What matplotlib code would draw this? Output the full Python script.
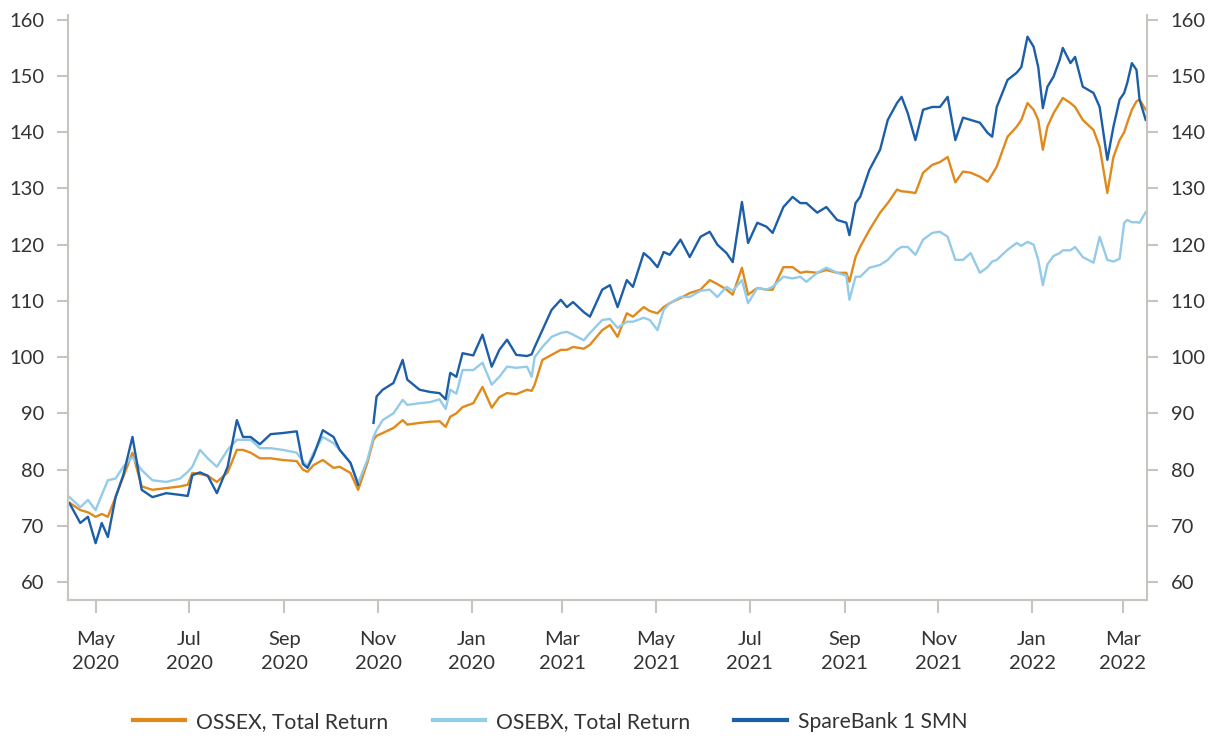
import matplotlib
matplotlib.use("Agg")
import matplotlib.pyplot as plt
import pandas as pd
import numpy as np

# x positions, as days since 2020-04-13
days = [1, 8, 13, 18, 22, 26, 31, 36, 42, 48, 55, 64, 73, 78, 81, 86, 91, 97, 104, 110,
        114, 119, 125, 132, 140, 149, 153, 156, 160, 166, 173, 177, 184, 189, 195, 199, 201, 205, 212, 218,
        221, 229, 236, 242, 246, 249, 253, 257, 264, 270, 276, 281, 286, 292, 299, 302, 304, 309, 315, 321,
        325, 329, 336, 340, 348, 353, 358, 364, 368, 375, 379, 384, 388, 392, 399, 405, 412, 418, 423, 429,
        433, 439, 443, 449, 455, 459, 466, 472, 477, 481, 488, 494, 501, 507, 509, 513, 516, 522, 529, 534,
        540, 543, 547, 552, 557, 563, 568, 573, 578, 583, 588, 594, 599, 602, 605, 612, 618, 621, 625, 629,
        632, 635, 638, 642, 646, 648, 653, 656, 661, 668, 672, 677, 681, 685, 688, 690, 693, 696, 698, 702]

ossex = [74.1, 72.8, 72.4, 71.6, 72.1, 71.6, 75.1, 78.7, 83.0, 77.0, 76.4, 76.7, 77.0, 77.3, 79.4, 79.2, 78.9, 77.8, 79.5, 83.5,
         83.5, 83.0, 82.0, 82.0, 81.7, 81.5, 80.0, 79.6, 80.8, 81.7, 80.3, 80.5, 79.4, 76.4, 81.2, 85.3, 86.0, 86.5, 87.4, 88.8,
         88.0, 88.3, 88.5, 88.6, 87.6, 89.4, 90.0, 91.1, 91.8, 94.7, 91.0, 92.9, 93.6, 93.4, 94.2, 94.0, 95.1, 99.5, 100.4, 101.3,
         101.3, 101.8, 101.5, 102.2, 104.8, 105.7, 103.6, 107.8, 107.2, 108.9, 108.2, 107.8, 108.9, 109.6, 110.5, 111.4, 112.0, 113.7, 113.0, 112.0,
         111.1, 115.9, 111.1, 112.3, 112.0, 112.0, 116.0, 116.0, 115.0, 115.2, 115.0, 115.5, 115.0, 115.0, 113.4, 117.8, 119.6, 122.6, 125.7, 127.4,
         129.8, 129.5, 129.4, 129.2, 132.8, 134.2, 134.7, 135.6, 131.1, 133.0, 132.8, 132.1, 131.2, 132.5, 133.9, 139.2, 141.0, 142.2, 145.2, 144.0,
         142.2, 136.9, 141.0, 143.4, 145.2, 146.1, 145.2, 144.5, 142.2, 140.4, 137.4, 129.2, 135.6, 138.6, 140.0, 141.7, 144.0, 145.5, 145.8, 144.0]

osebx = [75.1, 73.3, 74.6, 72.8, 75.5, 78.1, 78.4, 80.5, 82.2, 79.9, 78.1, 77.8, 78.4, 79.6, 80.5, 83.5, 82.0, 80.5, 83.5, 85.3,
         85.3, 85.3, 83.8, 83.8, 83.5, 83.0, 81.5, 80.6, 83.0, 85.8, 84.7, 83.5, 81.2, 77.6, 81.7, 85.8, 87.0, 88.8, 90.0, 92.4,
         91.5, 91.8, 92.0, 92.5, 90.8, 94.2, 93.5, 97.7, 97.7, 99.0, 95.1, 96.5, 98.3, 98.1, 98.3, 96.5, 100.0, 101.8, 103.6, 104.3,
         104.5, 104.0, 103.0, 104.3, 106.6, 106.8, 105.2, 106.3, 106.3, 107.0, 106.6, 104.8, 108.4, 109.6, 110.7, 110.7, 111.8, 112.0, 110.7, 112.5,
         111.8, 113.7, 109.6, 112.3, 112.0, 112.5, 114.3, 114.0, 114.3, 113.4, 115.0, 115.9, 115.0, 114.5, 110.2, 114.3, 114.3, 115.9, 116.4, 117.3,
         119.1, 119.6, 119.6, 118.2, 120.9, 122.1, 122.3, 121.4, 117.3, 117.3, 118.5, 115.0, 116.0, 117.0, 117.3, 119.1, 120.3, 119.8, 120.5, 120.0,
         117.3, 112.8, 116.5, 118.0, 118.5, 119.0, 119.0, 119.6, 117.8, 116.8, 121.4, 117.3, 117.0, 117.5, 123.9, 124.4, 124.0, 124.0, 123.9, 125.8]

smn = [74.0, 70.5, 71.6, 66.9, 70.5, 68.0, 75.1, 79.0, 85.8, 76.4, 75.1, 75.8, 75.5, 75.3, 79.0, 79.5, 78.9, 75.8, 80.5, 88.8,
       85.8, 85.8, 84.5, 86.3, 86.5, 86.8, 81.0, 80.3, 82.5, 87.0, 85.8, 83.5, 81.2, 77.3, np.nan, 88.3, 93.0, 94.2, 95.4, 99.5,
       96.0, 94.2, 93.8, 93.6, 92.5, 97.2, 96.5, 100.7, 100.3, 104.0, 98.3, 101.3, 103.1, 100.4, 100.2, 100.5, 101.8, 104.8, 108.4, 110.2,
       108.9, 109.8, 108.0, 107.2, 112.0, 112.8, 108.9, 113.7, 112.5, 118.5, 117.6, 116.0, 118.7, 118.2, 120.9, 117.8, 121.4, 122.3, 120.0, 118.5,
       116.9, 127.6, 120.3, 123.9, 123.2, 122.1, 126.7, 128.5, 127.4, 127.4, 125.7, 126.7, 124.4, 123.9, 121.7, 127.4, 128.5, 133.3, 136.9, 142.2,
       145.2, 146.3, 143.4, 138.6, 144.0, 144.5, 144.5, 146.3, 138.6, 142.6, 142.2, 141.7, 139.9, 139.2, 144.5, 149.3, 150.6, 151.6, 157.0, 155.2,
       151.6, 144.3, 148.1, 149.9, 152.9, 155.0, 152.3, 153.4, 148.1, 147.0, 144.5, 135.1, 141.0, 145.8, 147.0, 148.8, 152.3, 151.1, 145.8, 142.2]

series_names = ["OSSEX, Total Return", "OSEBX, Total Return", "SpareBank 1 SMN"]
series_colors = ["#e08a1c", "#93cbe8", "#1c5ea8"]

tick_dates = ["2020-05-01", "2020-07-01", "2020-09-01", "2020-11-01", "2021-01-01", "2021-03-01",
              "2021-05-01", "2021-07-01", "2021-09-01", "2021-11-01", "2022-01-01", "2022-03-01"]
tick_labels = ["May\n2020", "Jul\n2020", "Sep\n2020", "Nov\n2020", "Jan\n2020", "Mar\n2021",
               "May\n2021", "Jul\n2021", "Sep\n2021", "Nov\n2021", "Jan\n2022", "Mar\n2022"]
y_ticks = [60, 70, 80, 90, 100, 110, 120, 130, 140, 150, 160]

plt.rcParams['font.family'] = ['Lato', 'DejaVu Sans']
text_color = "#333333"
spine_color = "#c8c4bf"

dates = pd.Timestamp("2020-04-13") + pd.to_timedelta(days, unit="D")

fig = plt.figure(figsize=(12.14, 7.38), dpi=100)
ax = fig.add_axes([0.056, 0.187, 0.889, 0.793])

for vals, name, col in zip([ossex, osebx, smn], series_names, series_colors):
    ax.plot(dates, vals, color=col, lw=1.7, label=name)

ax.set_xlim(pd.Timestamp("2020-04-13"), pd.Timestamp("2022-03-17"))
ax.set_ylim(56.8, 160.9)
ax.set_yticks(y_ticks)
ax.set_xticks(pd.to_datetime(tick_dates))
ax.set_xticklabels(tick_labels)

ax.spines['top'].set_visible(False)
for s in ['left', 'bottom', 'right']:
    ax.spines[s].set_color(spine_color)
    ax.spines[s].set_linewidth(1.5)

ax.tick_params(axis='x', length=9, width=1.5, color=spine_color, labelsize=14.5,
               labelcolor=text_color, pad=13)
ax.tick_params(axis='y', length=8, width=1.5, color=spine_color, labelsize=14.5,
               labelcolor=text_color, pad=9, left=True, right=True, labelleft=True, labelright=True)
for lab in ax.get_xticklabels():
    lab.set_linespacing(1.5)

leg = fig.legend(loc='center', bbox_to_anchor=(0.453, 0.022), ncol=3, frameon=False,
                 fontsize=15.2, handlelength=2.5, handletextpad=0.5, columnspacing=2.1)
for t in leg.get_texts():
    t.set_color(text_color)
for l in leg.get_lines():
    l.set_linewidth(3)

fig.savefig("out.png", dpi=100)
